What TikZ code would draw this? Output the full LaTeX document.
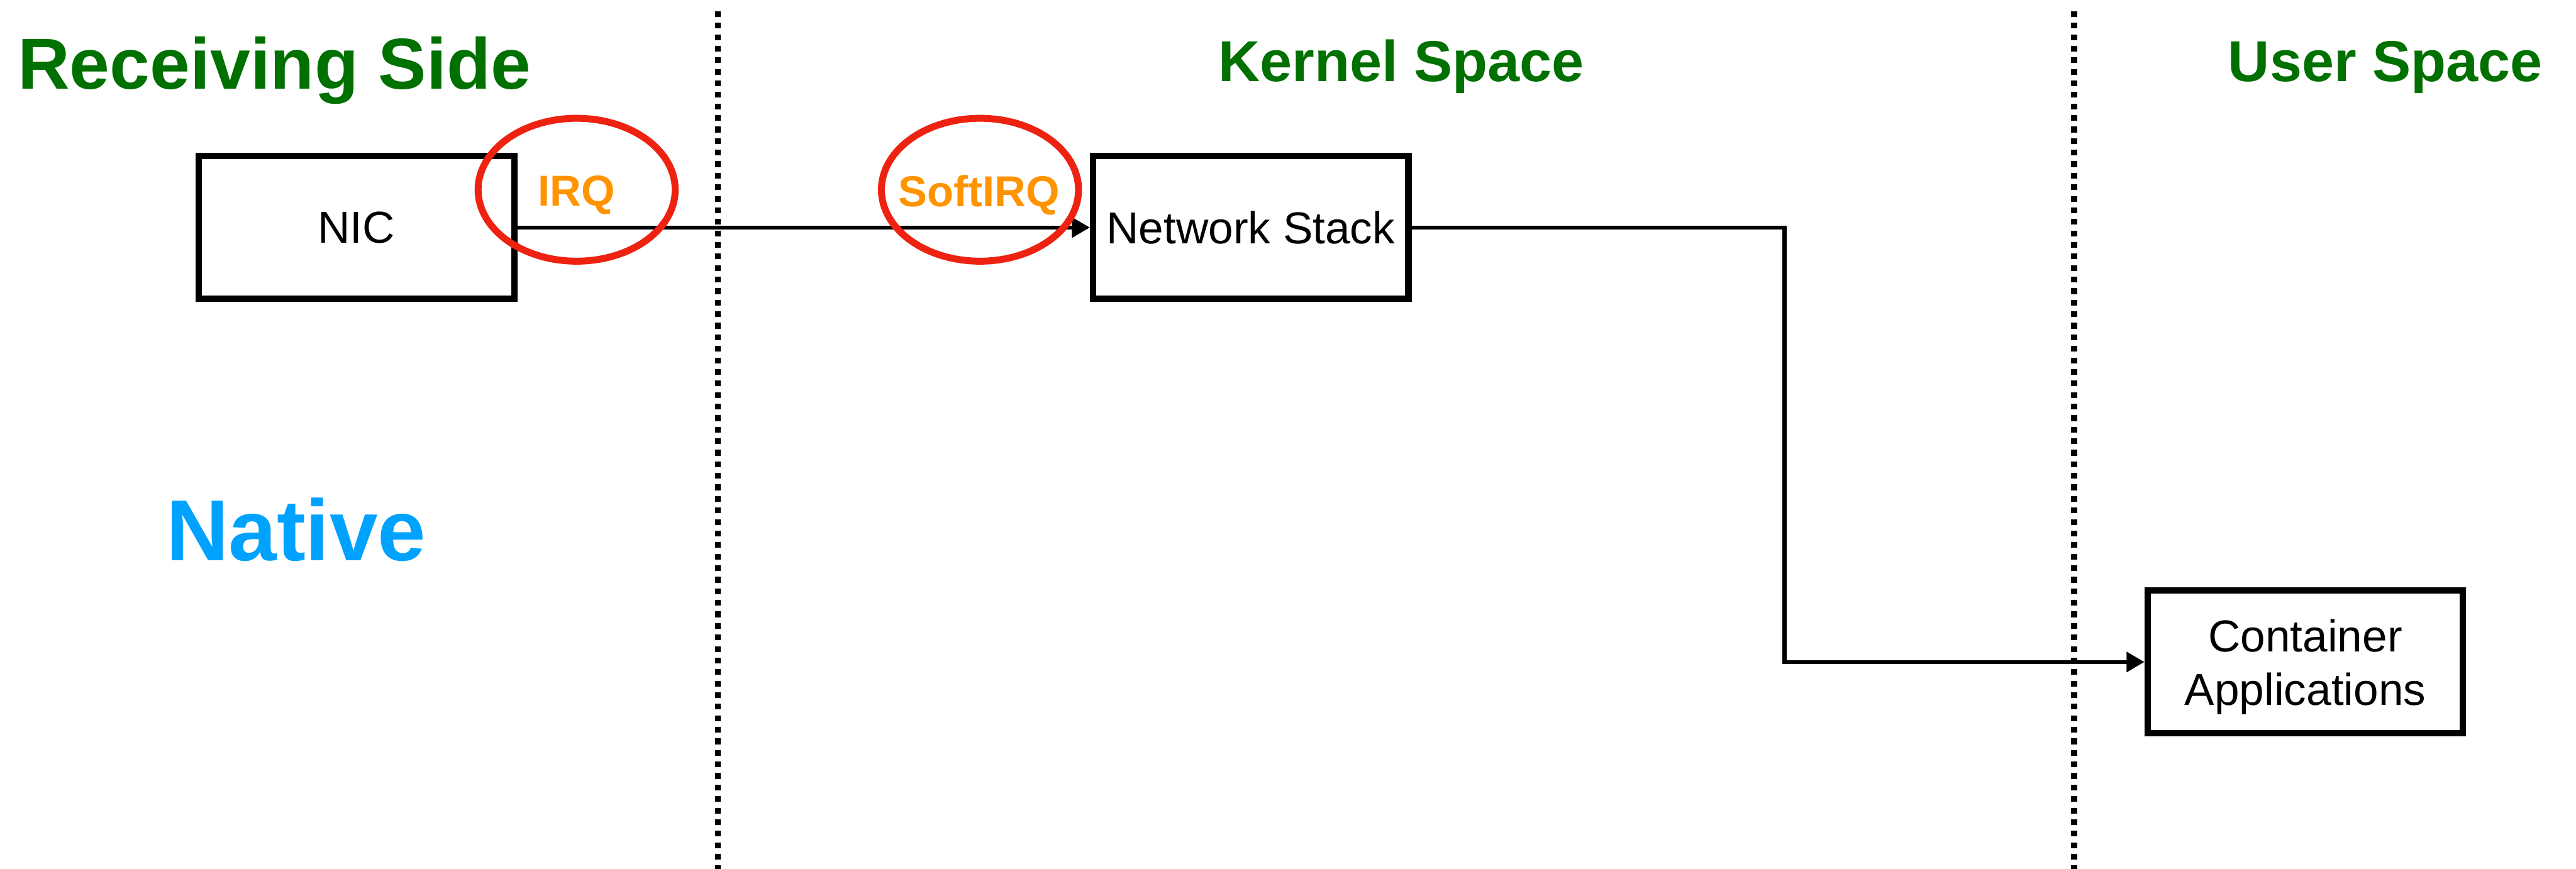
\documentclass[tikz,border=0pt]{standalone}
\usepackage{fontspec}
\setmainfont{Liberation Sans}
\usetikzlibrary{arrows.meta,shapes.geometric}
\definecolor{titlegreen}{RGB}{0,112,0}
\definecolor{nativeblue}{RGB}{0,162,255}
\definecolor{irqorange}{RGB}{255,147,0}
\definecolor{ringred}{RGB}{238,34,17}
\begin{document}
\begin{tikzpicture}[x=0.02cm,y=-0.02cm,
	box/.style={draw,line width=2.2pt,minimum width=3.84cm,minimum height=1.74cm,inner sep=0pt,font=\fontsize{15.5}{18.5}\selectfont,align=center},
	ring/.style={draw=ringred,ellipse,line width=2.4pt,minimum width=2.4cm,minimum height=1.74cm,inner sep=0pt},
	irqlabel/.style={anchor=base,inner sep=0pt,text=irqorange,font=\fontsize{15}{18}\selectfont\bfseries},
	region/.style={anchor=base,inner sep=0pt,text=titlegreen,font=\fontsize{20}{24}\selectfont\bfseries},
	conn/.style={line width=1.4pt,-{Triangle[length=6.2pt,width=6.8pt]}},
	divider/.style={line width=2pt,dash pattern=on 2pt off 2pt}]
	\useasboundingbox (0,0) rectangle (1568,529);
	\draw[divider](437.1,6.8)--(437.1,529);
	\draw[divider](1262.5,6.8)--(1262.5,529);
	\node[region,font=\fontsize{25}{30}\selectfont\bfseries](recv) at (167,54.2){Receiving Side};
	\node[region](kernel) at (853,49.7){Kernel Space};
	\node[region](user) at (1452,49.7){User Space};
	\node[anchor=base,inner sep=0pt,text=nativeblue,font=\fontsize{30}{36}\selectfont\bfseries](native) at (180.2,341.3){Native};
	\node[box](nic) at (217,138.5){NIC};
	\node[box](stack) at (761.3,138.5){Network Stack};
	\node[box,text depth=0pt](apps) at (1403.2,403){Container\\Applications};
	\coordinate (bend) at (1086.2,138.5);
	\draw[conn](nic)--(stack);
	\draw[conn](stack)--(bend)|-(apps);
	\node[ring](irqring) at (351,115.5){};
	\node[ring](softring) at (596.5,115.5){};
	\node[irqlabel](irq) at (351,125.5){IRQ};
	\node[irqlabel](softirq) at (596,125.7){SoftIRQ};
\end{tikzpicture}
\end{document}
